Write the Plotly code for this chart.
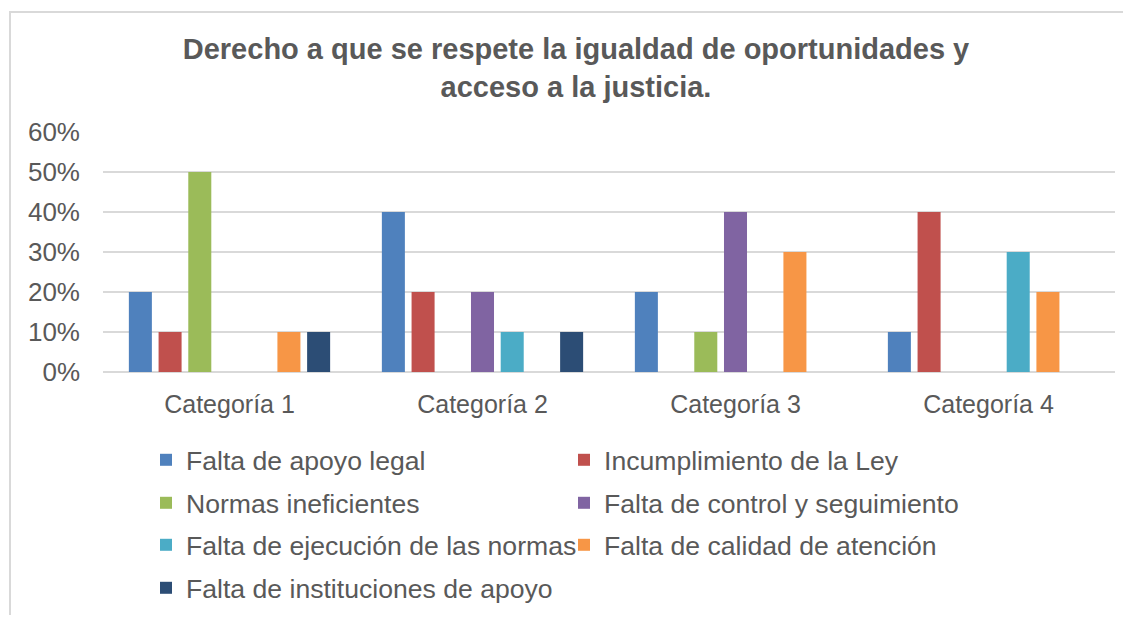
import plotly.graph_objects as go

categories = ["Categoría 1", "Categoría 2", "Categoría 3", "Categoría 4"]
series_names = [
    "Falta de apoyo legal",
    "Incumplimiento de la Ley",
    "Normas ineficientes",
    "Falta de control y seguimiento",
    "Falta de ejecución de las normas",
    "Falta de calidad de atención",
    "Falta de instituciones de apoyo",
]
falta_apoyo_legal = [0.20, 0.40, 0.20, 0.10]
incumplimiento_ley = [0.10, 0.20, 0.00, 0.40]
normas_ineficientes = [0.50, 0.00, 0.10, 0.00]
falta_control = [0.00, 0.20, 0.40, 0.00]
falta_ejecucion = [0.00, 0.10, 0.00, 0.30]
falta_calidad = [0.10, 0.00, 0.30, 0.20]
falta_instituciones = [0.10, 0.10, 0.00, 0.00]
series_values = [falta_apoyo_legal, incumplimiento_ley, normas_ineficientes,
                 falta_control, falta_ejecucion, falta_calidad, falta_instituciones]
colors = ["#4F81BD", "#C0504D", "#9BBB59", "#8064A2", "#4BACC6", "#F79646", "#2C4D75"]
y_ticks = [0, 0.1, 0.2, 0.3, 0.4, 0.5, 0.6]

W, H = 1115, 607
ml, mr, mt, mb = 95, 8, 124, 243
pw = W - ml - mr
ph = H - mt - mb

def px_to_paper_x(px):
    return (px - ml) / pw

def px_to_paper_y(py):
    return (H - mb - py) / ph

font_family = "Arial, Liberation Sans, sans-serif"
txt = "#595959"

# legend rows (two entries per row), each row is its own legend
legend_ids = ["legend", "legend2", "legend3", "legend4"]
row_centers = [452, 495, 537, 580]

fig = go.Figure()
for i, (name, vals, col) in enumerate(zip(series_names, series_values, colors)):
    fig.add_trace(go.Bar(name=name, x=categories, y=vals,
                         marker=dict(color=col, line=dict(width=0)),
                         legend=legend_ids[i // 2]))

fig.add_shape(type="path", xref="paper", yref="paper",
              path=f"M {px_to_paper_x(2)} {px_to_paper_y(700)} L {px_to_paper_x(2)} {px_to_paper_y(4)} L {px_to_paper_x(1200)} {px_to_paper_y(4)}",
              line=dict(color="#D9D9D9", width=2))

legend_common = dict(orientation="h", x=px_to_paper_x(138), xanchor="left",
                     yanchor="middle", entrywidth=373, entrywidthmode="pixels",
                     font=dict(family=font_family, size=26.6, color=txt),
                     bgcolor="rgba(0,0,0,0)", traceorder="normal")
legends = {}
for lid, yc in zip(legend_ids, row_centers):
    legends[lid] = dict(legend_common, y=px_to_paper_y(yc))

fig.update_layout(
    width=W, height=H,
    margin=dict(l=ml, r=mr, t=mt, b=mb, autoexpand=False),
    paper_bgcolor="white", plot_bgcolor="white",
    barmode="group", bargap=0.178, bargroupgap=0.225,
    title=dict(
        text="Derecho a que se respete la igualdad de oportunidades y<br>acceso a la justicia.",
        font=dict(family=font_family, size=29, color=txt, weight="bold"),
        x=568 / W, xanchor="center", xref="container",
        y=1 - 51 / H, yanchor="top", yref="container",
    ),
    font=dict(family=font_family, size=25, color=txt),
    xaxis=dict(showgrid=False, showline=False, ticks="", tickfont=dict(size=25, color=txt),
               ticklabelstandoff=15),
    yaxis=dict(range=[0, 0.6], tickvals=y_ticks, tickformat=".0%", showgrid=True,
               gridcolor="#D9D9D9", gridwidth=2, zeroline=True, zerolinecolor="#D9D9D9",
               zerolinewidth=2, showline=False, ticks="", tickfont=dict(size=26, color=txt),
               ticklabelstandoff=22),
    showlegend=True,
    **legends,
)

fig.write_html("out.html")
